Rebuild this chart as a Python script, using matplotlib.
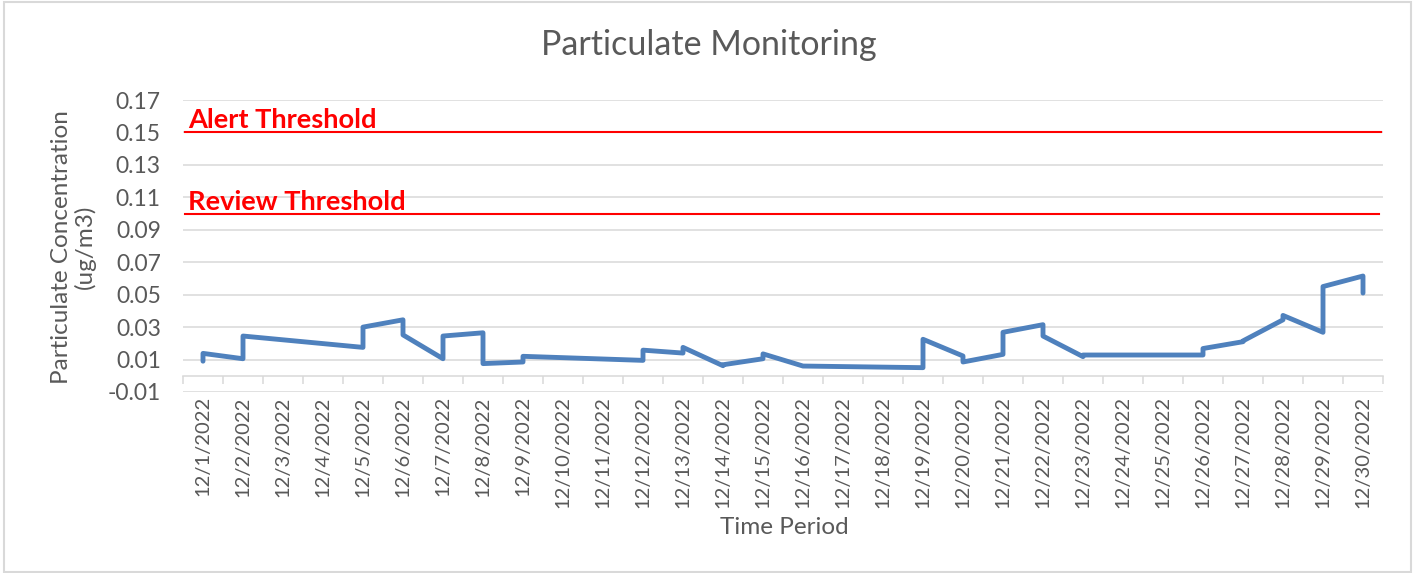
import matplotlib
matplotlib.use("Agg")
import matplotlib.pyplot as plt
from matplotlib.patches import Rectangle
from matplotlib.ticker import FixedLocator, NullLocator
import matplotlib.transforms as mtransforms

plt.rcParams['font.family'] = ['Lato', 'DejaVu Sans']

# ---- data ----
date_labels = ["12/1/2022", "12/2/2022", "12/3/2022", "12/4/2022", "12/5/2022",
               "12/6/2022", "12/7/2022", "12/8/2022", "12/9/2022", "12/10/2022",
               "12/11/2022", "12/12/2022", "12/13/2022", "12/14/2022", "12/15/2022",
               "12/16/2022", "12/17/2022", "12/18/2022", "12/19/2022", "12/20/2022",
               "12/21/2022", "12/22/2022", "12/23/2022", "12/24/2022", "12/25/2022",
               "12/26/2022", "12/27/2022", "12/28/2022", "12/29/2022", "12/30/2022"]
# day of month for each sampled date (two readings per sampled day)
sample_days = [1, 2, 5, 6, 7, 8, 9, 12, 13, 14, 15, 16, 19, 20, 21, 22, 23, 26, 27, 28, 29, 30]
first_reading = [0.009, 0.0105, 0.0175, 0.0345, 0.0105, 0.0265, 0.0085, 0.0095, 0.0140, 0.0062,
                 0.0105, 0.0060, 0.0050, 0.0122, 0.0132, 0.0315, 0.0118, 0.0128, 0.0210, 0.0345,
                 0.0268, 0.0615]
second_reading = [0.0138, 0.0245, 0.0300, 0.0252, 0.0245, 0.0075, 0.0120, 0.0158, 0.0175, 0.0068,
                  0.0135, 0.0060, 0.0225, 0.0085, 0.0268, 0.0245, 0.0128, 0.0168, 0.0215, 0.0372,
                  0.0550, 0.0510]
alert_threshold = 0.15
review_threshold = 0.10

# ---- build series ----
xs, ys = [], []
for d, a, b in zip(sample_days, first_reading, second_reading):
    xs += [d, d]
    ys += [a, b]

grey = '#595959'
grid_c = '#D9D9D9'

fig = plt.figure(figsize=(14.16, 5.73), dpi=100)
ax = fig.add_axes([183/1416, 1-392/573, 1200/1416, 292/573])

ax.set_xlim(0.5, 30.5)
ax.set_ylim(-0.01, 0.17)

# y grid
ax.yaxis.set_major_locator(FixedLocator([-0.01 + 0.02*i for i in range(10)]))
ax.set_yticklabels([f"{-0.01 + 0.02*i:.2f}" for i in range(10)])
ax.grid(axis='y', color=grid_c, linewidth=1.1, zorder=0)
ax.tick_params(axis='y', length=0, pad=16, labelsize=16.5, labelcolor=grey)

for s in ['top', 'right', 'left']:
    ax.spines[s].set_visible(False)
ax.spines['bottom'].set_position(('data', 0))
ax.spines['bottom'].set_color(grid_c)
ax.spines['bottom'].set_linewidth(1.1)
ax.xaxis.set_major_locator(FixedLocator([i + 0.5 for i in range(31)]))
ax.xaxis.set_minor_locator(NullLocator())
ax.tick_params(axis='x', which='major', length=6, width=1.1, color=grid_c,
               direction='out', labelbottom=False)

# labels at bottom of plot area
sec = ax.secondary_xaxis(0.0)
sec.set_xticks(list(range(1, 31)))
sec.set_xticklabels(date_labels, rotation=90)
sec.tick_params(length=0, pad=3, labelsize=14.5, labelcolor=grey)
sec.spines['bottom'].set_visible(False)

# thresholds
ax.axhline(alert_threshold, xmin=0.002, xmax=0.998, color='#FF0000', linewidth=1.5, zorder=2)
ax.axhline(review_threshold, xmin=0.002, xmax=0.997, color='#FF0000', linewidth=1.5, zorder=2)
tr = mtransforms.blended_transform_factory(ax.transAxes, ax.transData)
off = mtransforms.offset_copy(tr, fig=fig, x=0, y=4, units='dots')
ax.text(0.004, alert_threshold, "Alert Threshold", transform=off, color='#FF0000',
        fontsize=19.6, fontweight='bold', va='baseline', ha='left')
ax.text(0.004, review_threshold, "Review Threshold", transform=off, color='#FF0000',
        fontsize=19.6, fontweight='bold', va='baseline', ha='left')

# data line
ax.plot(xs, ys, color='#4F81BD', linewidth=3.5, solid_capstyle='round',
        solid_joinstyle='round', zorder=3)

# titles
fig.text(709/1416, 1-45/573, "Particulate Monitoring", ha='center', va='center',
         fontsize=24.5, color=grey)
fig.text(73/1416, 1-247/573, "Particulate Concentration\n(ug/m3)", ha='center', va='center',
         rotation=90, fontsize=17.5, color=grey, linespacing=1.1)
fig.text(784/1416, 1-528/573, "Time Period", ha='center', va='center',
         fontsize=17.5, color=grey)

# chart border
fig.patches.append(Rectangle((3.5/1416, 1/573), 1407/1416, 570.5/573, transform=fig.transFigure,
                             fill=False, edgecolor=grid_c, linewidth=1.5))

fig.savefig("out.png", dpi=100, facecolor='white')
